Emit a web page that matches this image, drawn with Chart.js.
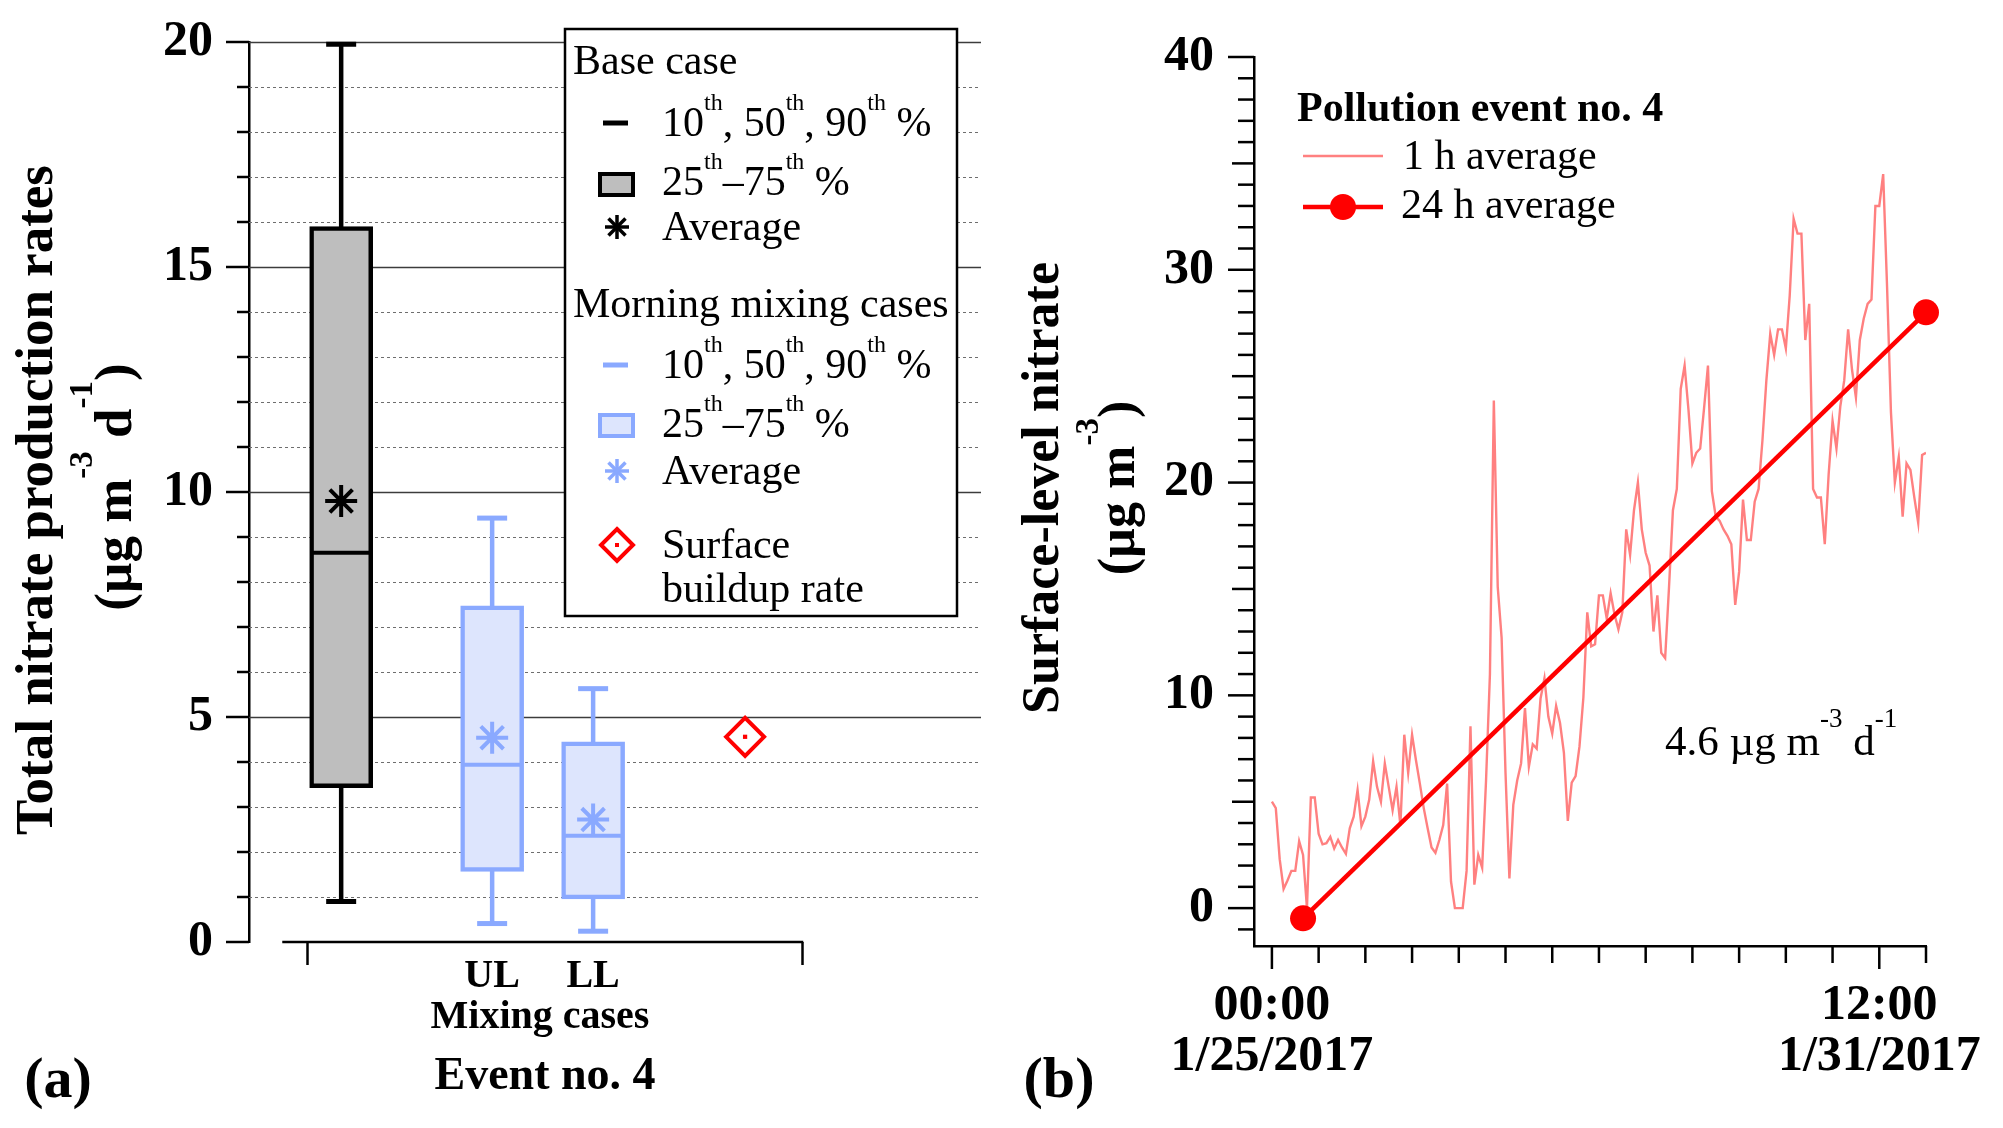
<!DOCTYPE html>
<html>
<head>
<meta charset="utf-8">
<title>Nitrate production and buildup, event no. 4</title>
<script src="https://cdn.jsdelivr.net/npm/chart.js@4.4.0/dist/chart.umd.min.js"></script>
<style>
  html, body { margin: 0; padding: 0; background: #fff; }
  #wrap { position: relative; width: 2003px; height: 1128px; overflow: hidden; background: #fff; }
  canvas { position: absolute; top: 0; }
  #boxChart { left: 0; }
  #lineChart { left: 1000px; }
</style>
</head>
<body>
<div id="wrap">
  <canvas id="boxChart" width="1000" height="1128"></canvas>
  <canvas id="lineChart" width="1003" height="1128"></canvas>
</div>
<script>
// ---- panel (a): box statistics, one entry per box (base case, UL, LL)
const boxX = [0.069, 0.374, 0.578];
const p10 = [0.9, 0.41, 0.24];
const q25 = [3.43, 1.57, 0.96];
const median = [8.65, 3.94, 2.36];
const q75 = [15.9, 7.47, 4.45];
const p90 = [19.95, 9.42, 5.63];
const average = [9.8, 4.54, 2.72];
const surfaceX = [0.885];
const surfaceRate = [4.56];

const xTicksA = [0, 0.374, 0.578, 1];
const xLabelsA = ["", "UL", "LL", ""];
const yLabelsA = [0, 5, 10, 15, 20];

// ---- panel (b): surface nitrate, hours since 00:00 1/25/2017
const nitrate1h = [
  5.0, 4.7, 2.3, 0.9, 1.3, 1.75, 1.75, 3.15, 2.5, 0.0,
  5.2, 5.2, 3.5, 3.0, 3.05, 3.35, 2.8, 3.2, 2.85, 2.55,
  3.75, 4.3, 5.55, 3.85, 4.3, 5.1, 6.9, 5.7, 5.0, 6.8,
  5.7, 4.6, 5.7, 3.9, 8.15, 6.35, 8.15, 6.95, 5.85, 4.7,
  3.75, 2.85, 2.6, 3.2, 3.9, 5.85, 1.25, 0.0, 0.0, 0.0,
  1.75, 8.55, 1.1, 2.5, 1.9, 6.0, 11.0, 23.85, 15.1, 12.7,
  6.35, 1.4, 4.85, 6.0, 6.8, 9.4, 6.65, 7.7, 7.5, 9.85,
  10.8, 9.0, 8.2, 9.5, 8.7, 7.3, 4.1, 5.9, 6.2, 7.6,
  9.9, 13.9, 12.3, 12.4, 14.7, 14.7, 13.6, 14.8, 13.8, 13.1,
  13.9, 17.8, 16.6, 18.7, 20.0, 17.8, 16.7, 16.1, 13.0, 14.7,
  12.0, 11.75, 15.1, 18.7, 19.7, 24.4, 25.5, 23.4, 20.9, 21.4,
  21.6, 23.5, 25.5, 19.6, 18.4, 18.2, 17.8, 17.5, 17.1, 14.25,
  15.8, 19.2, 17.3, 17.3, 19.1, 19.7, 22.0, 24.8, 27.0, 26.0,
  27.2, 27.2, 26.3, 28.8, 32.4, 31.7, 31.7, 26.7, 28.4, 19.7,
  19.3, 19.3, 17.1, 20.4, 22.9, 21.6, 23.6, 24.8, 27.2, 25.3,
  24.0, 26.7, 27.7, 28.4, 28.6, 33.0, 33.0, 34.5, 29.2, 23.3,
  20.0, 21.2, 18.4, 20.9, 20.6, 19.3, 18.1, 21.3, 21.4
];
const hours24h = [8, 168];
const nitrate24h = [-0.48, 28.0];

const xTicksB = [0, 12, 24, 36, 48, 60, 72, 84, 96, 108, 120, 132, 144, 156, 168];
const xLabelsB = { 0: ["00:00", "1/25/2017"], 156: ["12:00", "1/31/2017"] };
const yLabelsB = [0, 10, 20, 30, 40];

// ---- colours
const BLUE = "rgb(138, 169, 255)";
const BLUE_FILL = "rgb(221, 229, 253)";
const GREY_FILL = "#bebebe";
const PINK = "rgb(255, 128, 128)";
const RED = "#ff0000";
const boxStroke = ["#000", BLUE, BLUE];
const boxFill = [GREY_FILL, BLUE_FILL, BLUE_FILL];

const SERIF = "'Liberation Serif', 'Times New Roman', serif";
Chart.defaults.font.family = SERIF;
Chart.defaults.color = "#000";

function line(ctx, x1, y1, x2, y2) {
  ctx.beginPath();
  ctx.moveTo(x1, y1);
  ctx.lineTo(x2, y2);
  ctx.stroke();
}

// keep the axis boxes at a fixed size, no extra label padding
function fixSize(prop, size) {
  return (s) => {
    s[prop] = size;
    s.paddingTop = 0;
    s.paddingBottom = 0;
    s.paddingLeft = 0;
    s.paddingRight = 0;
  };
}

// text with superscripts: parts = [{t, sup}]
function richText(ctx, parts, x, y, o) {
  const weight = o.bold ? "bold " : "";
  const supSize = o.supSize || Math.round(o.size * 0.58);
  const raise = o.raise || o.size * 0.62;
  const fontOf = (p) => weight + (p.sup ? supSize : o.size) + "px " + SERIF;
  let total = 0;
  parts.forEach((p) => { ctx.font = fontOf(p); total += ctx.measureText(p.t).width; });
  let cx = o.align === "center" ? x - total / 2 : x;
  ctx.textAlign = "left";
  parts.forEach((p) => {
    ctx.font = fontOf(p);
    ctx.fillText(p.t, cx, p.sup ? y - raise : y);
    cx += ctx.measureText(p.t).width;
  });
}

function asterisk(ctx, x, y, r) {
  for (let k = 0; k < 4; k++) {
    const a = k * Math.PI / 4;
    line(ctx, x - r * Math.cos(a), y - r * Math.sin(a), x + r * Math.cos(a), y + r * Math.sin(a));
  }
}

// ---------- panel (a) decorations
const panelA = {
  id: "panelA",
  beforeDatasetsDraw(chart) {
    const { ctx, chartArea: a, scales: { y } } = chart;
    ctx.save();
    for (let v = 1; v <= 20; v++) {
      const py = Math.round(y.getPixelForValue(v)) + 0.5;
      if (v % 5 === 0) {
        ctx.setLineDash([]);
        ctx.strokeStyle = "#3c3c3c";
        ctx.lineWidth = 1.4;
      } else {
        ctx.setLineDash([3, 3]);
        ctx.strokeStyle = "#6e6e6e";
        ctx.lineWidth = 1;
      }
      line(ctx, a.left, py, a.right, py);
    }
    ctx.restore();
  },
  afterDraw(chart) {
    const { ctx, chartArea: a, scales: { x, y } } = chart;
    ctx.save();
    ctx.strokeStyle = "#000";
    ctx.fillStyle = "#000";
    ctx.lineWidth = 2.5;
    for (let v = 0; v <= 20; v++) {
      const py = y.getPixelForValue(v);
      line(ctx, a.left - (v % 5 === 0 ? 23 : 12), py, a.left, py);
    }
    line(ctx, x.getPixelForValue(-0.05), a.bottom, x.getPixelForValue(1) + 1.25, a.bottom);

    // y title
    ctx.textBaseline = "middle";
    ctx.save();
    ctx.translate(38, 500);
    ctx.rotate(-Math.PI / 2);
    richText(ctx, [{ t: "Total nitrate production rates" }], 0, 0, { size: 53, bold: true, align: "center" });
    ctx.restore();
    ctx.save();
    ctx.translate(117, 487);
    ctx.rotate(-Math.PI / 2);
    richText(ctx, [{ t: "(\u00b5g m" }, { t: "-3", sup: true }, { t: " d" }, { t: "-1", sup: true }, { t: ")" }],
      0, 0, { size: 53, bold: true, align: "center", supSize: 33, raise: 34 });
    ctx.restore();

    ctx.textBaseline = "alphabetic";
    richText(ctx, [{ t: "Mixing cases" }], 540, 1028, { size: 40, bold: true, align: "center" });
    richText(ctx, [{ t: "Event no. 4" }], 545, 1089, { size: 46, bold: true, align: "center" });
    richText(ctx, [{ t: "(a)" }], 58, 1097, { size: 58, bold: true, align: "center" });

    // legend box
    ctx.fillStyle = "#fff";
    ctx.fillRect(565, 29, 392, 587);
    ctx.strokeRect(565, 29, 392, 587);
    ctx.fillStyle = "#000";
    const f = { size: 42 };
    richText(ctx, [{ t: "Base case" }], 573, 74, f);
    const pct = [{ t: "10" }, { t: "th", sup: true }, { t: ", 50" }, { t: "th", sup: true }, { t: ", 90" }, { t: "th", sup: true }, { t: " %" }];
    const iqr = [{ t: "25" }, { t: "th", sup: true }, { t: "\u201375" }, { t: "th", sup: true }, { t: " %" }];
    richText(ctx, pct, 662, 136, f);
    richText(ctx, iqr, 662, 195, f);
    richText(ctx, [{ t: "Average" }], 662, 240, f);
    richText(ctx, [{ t: "Morning mixing cases" }], 573, 317, f);
    richText(ctx, pct, 662, 378, f);
    richText(ctx, iqr, 662, 437, f);
    richText(ctx, [{ t: "Average" }], 662, 484, f);
    richText(ctx, [{ t: "Surface" }], 662, 558, f);
    richText(ctx, [{ t: "buildup rate" }], 662, 602, f);

    // legend keys
    ctx.lineWidth = 5;
    ctx.strokeStyle = "#000";
    line(ctx, 603, 123, 628, 123);
    ctx.strokeStyle = BLUE;
    line(ctx, 603, 365, 628, 365);
    ctx.lineWidth = 4;
    ctx.fillStyle = GREY_FILL;
    ctx.strokeStyle = "#000";
    ctx.fillRect(600, 174, 33, 21);
    ctx.strokeRect(600, 174, 33, 21);
    ctx.fillStyle = BLUE_FILL;
    ctx.strokeStyle = BLUE;
    ctx.fillRect(600, 415, 33, 21);
    ctx.strokeRect(600, 415, 33, 21);
    ctx.lineWidth = 3.5;
    ctx.strokeStyle = "#000";
    asterisk(ctx, 617, 227, 12);
    ctx.strokeStyle = BLUE;
    asterisk(ctx, 617, 471, 12);
    ctx.strokeStyle = RED;
    ctx.lineWidth = 4;
    ctx.beginPath();
    ctx.moveTo(617, 529); ctx.lineTo(633, 545); ctx.lineTo(617, 561); ctx.lineTo(601, 545); ctx.closePath();
    ctx.stroke();
    ctx.fillStyle = RED;
    ctx.fillRect(615, 543, 4, 4);
    ctx.restore();
  }
};

const whiskerSets = boxX.map((x, i) => ({
  type: "line",
  data: [{ x: x, y: p10[i] }, { x: x, y: p90[i] }],
  borderColor: boxStroke[i],
  borderWidth: 4.5,
  pointRadius: 0,
  clip: false,
  order: 5
}));

new Chart(document.getElementById("boxChart"), {
  type: "scatter",
  data: {
    datasets: [
      ...whiskerSets,
      {
        type: "bar",
        data: boxX.map((x, i) => ({ x: x, y: [q25[i], q75[i]] })),
        backgroundColor: boxFill,
        borderColor: boxStroke,
        borderWidth: 4.5,
        borderSkipped: false,
        barThickness: 63,
        grouped: false,
        order: 4
      },
      {
        data: boxX.flatMap((x, i) => [{ x: x, y: p10[i] }, { x: x, y: p90[i] }]),
        pointStyle: "line",
        pointRadius: 15,
        pointBorderWidth: 5,
        pointBorderColor: boxStroke.flatMap((c) => [c, c]),
        clip: false,
        order: 2
      },
      {
        data: boxX.map((x, i) => ({ x: x, y: median[i] })),
        pointStyle: "line",
        pointRadius: 29,
        pointBorderWidth: 4,
        pointBorderColor: boxStroke,
        order: 2
      },
      {
        data: boxX.map((x, i) => ({ x: x, y: average[i] })),
        pointStyle: "star",
        pointRadius: 16,
        pointBorderWidth: 4,
        pointBorderColor: boxStroke,
        order: 1
      },
      {
        data: surfaceX.map((x, i) => ({ x: x, y: surfaceRate[i] })),
        pointStyle: "rectRot",
        pointRadius: 19,
        pointBorderWidth: 4,
        pointBorderColor: RED,
        pointBackgroundColor: "#fff",
        order: 1
      },
      {
        data: surfaceX.map((x, i) => ({ x: x, y: surfaceRate[i] })),
        pointStyle: "rect",
        pointRadius: 3,
        pointBorderWidth: 0,
        pointBackgroundColor: RED,
        order: 0
      }
    ]
  },
  options: {
    responsive: false,
    animation: false,
    devicePixelRatio: 1,
    layout: { autoPadding: false, padding: { left: 0, right: 19, top: 42, bottom: 0 } },
    plugins: { legend: { display: false }, tooltip: { enabled: false } },
    scales: {
      x: {
        type: "linear",
        min: -0.1172,
        max: 1.3616,
        offset: false,
        afterFit: fixSize("height", 186),
        afterBuildTicks: (s) => { s.ticks = xTicksA.map((v) => ({ value: v })); },
        ticks: {
          autoSkip: false,
          maxRotation: 0,
          padding: -12,
          font: { size: 40, weight: "bold" },
          callback: (v) => xLabelsA[xTicksA.indexOf(v)]
        },
        grid: {
          display: true,
          drawOnChartArea: false,
          drawTicks: true,
          offset: false,
          tickLength: 23,
          tickWidth: 2.5,
          tickColor: (c) => (c.tick && (c.tick.value === 0 || c.tick.value === 1)) ? "#000" : "rgba(0,0,0,0)"
        },
        border: { display: false }
      },
      y: {
        min: 0,
        max: 20,
        afterFit: fixSize("width", 249),
        ticks: {
          stepSize: 1,
          autoSkip: false,
          padding: 36,
          font: { size: 50, weight: "bold" },
          callback: (v) => yLabelsA.includes(v) ? String(v) : ""
        },
        grid: { display: false, drawTicks: false },
        border: { display: true, color: "#000", width: 2.5 }
      }
    }
  },
  plugins: [panelA]
});

// ---------- panel (b) decorations
const panelB = {
  id: "panelB",
  afterDraw(chart) {
    const { ctx, chartArea: a, scales: { x, y } } = chart;
    ctx.save();
    ctx.strokeStyle = "#000";
    ctx.fillStyle = "#000";
    ctx.lineWidth = 2.5;
    for (let v = -1; v <= 40; v++) {
      const py = y.getPixelForValue(v);
      const len = v % 10 === 0 ? 26 : (v % 5 === 0 ? 22 : 16);
      line(ctx, a.left - len, py, a.left, py);
    }
    xTicksB.forEach((t) => {
      const px = x.getPixelForValue(t);
      line(ctx, px, a.bottom, px, a.bottom + (xLabelsB[t] ? 23 : 17));
    });

    ctx.textBaseline = "middle";
    ctx.save();
    ctx.translate(45, 488);
    ctx.rotate(-Math.PI / 2);
    richText(ctx, [{ t: "Surface-level nitrate" }], 0, 0, { size: 52, bold: true, align: "center" });
    ctx.restore();
    ctx.save();
    ctx.translate(121, 488);
    ctx.rotate(-Math.PI / 2);
    richText(ctx, [{ t: "(\u00b5g m" }, { t: "-3", sup: true }, { t: ")" }],
      0, 0, { size: 52, bold: true, align: "center", supSize: 33, raise: 32 });
    ctx.restore();

    ctx.textBaseline = "alphabetic";
    richText(ctx, [{ t: "(b)" }], 59, 1097, { size: 58, bold: true, align: "center" });

    // legend
    richText(ctx, [{ t: "Pollution event no. 4" }], 297, 121, { size: 42, bold: true });
    richText(ctx, [{ t: "1 h average" }], 403, 169, { size: 42 });
    richText(ctx, [{ t: "24 h average" }], 401, 218, { size: 42 });
    ctx.strokeStyle = PINK;
    ctx.lineWidth = 2.5;
    line(ctx, 303, 156, 383, 156);
    ctx.strokeStyle = RED;
    ctx.lineWidth = 4.5;
    line(ctx, 303, 207, 383, 207);
    ctx.fillStyle = RED;
    ctx.beginPath();
    ctx.arc(343, 207, 13, 0, Math.PI * 2);
    ctx.fill();

    // rate annotation
    ctx.fillStyle = "#000";
    richText(ctx, [{ t: "4.6 \u00b5g m" }, { t: "-3", sup: true }, { t: " d" }, { t: "-1", sup: true }],
      665, 755, { size: 43, supSize: 27, raise: 28 });
    ctx.restore();
  }
};

new Chart(document.getElementById("lineChart"), {
  type: "line",
  data: {
    datasets: [
      {
        data: hours24h.map((h, i) => ({ x: h, y: nitrate24h[i] })),
        borderColor: RED,
        borderWidth: 4.5,
        pointRadius: 13,
        pointBackgroundColor: RED,
        pointBorderWidth: 0,
        clip: false,
        order: 0
      },
      {
        data: nitrate1h.map((v, h) => ({ x: h, y: v })),
        borderColor: PINK,
        borderWidth: 2.4,
        pointRadius: 0,
        tension: 0,
        order: 1
      }
    ]
  },
  options: {
    responsive: false,
    animation: false,
    devicePixelRatio: 1,
    layout: { autoPadding: false, padding: { left: 0, right: 77, top: 57, bottom: 0 } },
    plugins: { legend: { display: false }, tooltip: { enabled: false } },
    scales: {
      x: {
        type: "linear",
        min: -4.6,
        max: 168,
        afterFit: fixSize("height", 182),
        afterBuildTicks: (s) => { s.ticks = xTicksB.map((v) => ({ value: v })); },
        ticks: {
          autoSkip: false,
          maxRotation: 0,
          padding: 35,
          font: { size: 50, weight: "bold", lineHeight: 1.02 },
          callback: (v) => xLabelsB[v] || ""
        },
        grid: { display: false, drawTicks: false },
        border: { display: true, color: "#000", width: 2.5 }
      },
      y: {
        min: -1.78,
        max: 40,
        afterFit: fixSize("width", 254),
        afterBuildTicks: (s) => { s.ticks = yLabelsB.map((v) => ({ value: v })); },
        ticks: {
          autoSkip: false,
          padding: 40,
          font: { size: 50, weight: "bold" },
          callback: (v) => String(v)
        },
        grid: { display: false, drawTicks: false },
        border: { display: true, color: "#000", width: 2.5 }
      }
    }
  },
  plugins: [panelB]
});
</script>
</body>
</html>
